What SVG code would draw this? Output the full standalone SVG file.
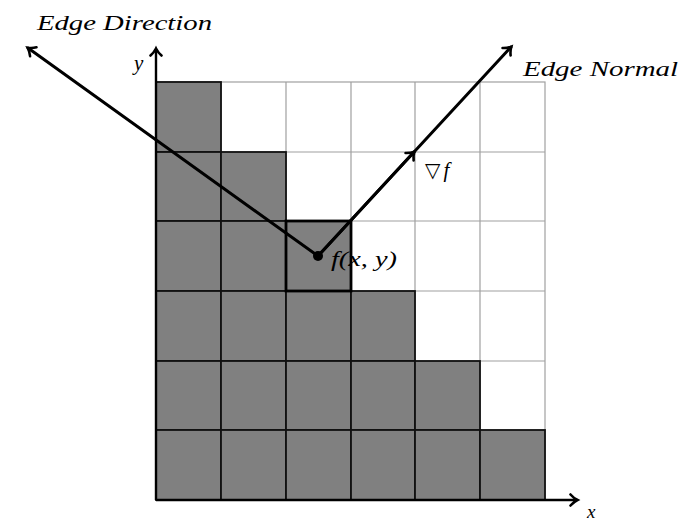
<svg xmlns="http://www.w3.org/2000/svg" width="689" height="523" viewBox="0 0 689 523">
<style>
.lbl{font-family:"Liberation Serif","DejaVu Serif","Times New Roman",serif;font-style:italic;fill:#000}
.cellw{fill:#fff;stroke:#a0a0a0;stroke-width:1.2}
.cellg{fill:#808080;stroke:#111;stroke-width:1.8}
.arr{fill:none;stroke:#000;stroke-width:3;stroke-linecap:round}
.axis{fill:none;stroke:#000;stroke-width:2.4}
</style>
<defs>
<marker id="head" markerWidth="14" markerHeight="14" refX="9" refY="7" orient="auto" markerUnits="userSpaceOnUse">
<path d="M2.5,1.5 Q5.5,5 9.5,7 Q5.5,9 2.5,12.5" fill="none" stroke="#000" stroke-width="2.6" stroke-linecap="round"/>
</marker>
</defs>
<g id="grid">
<rect class="cellw" x="156" y="82" width="389" height="418"/>
<path d="M221,82V500M286,82V500M351,82V500M415,82V500M480,82V500M156,152H545M156,221H545M156,291H545M156,361H545M156,430H545" stroke="#a0a0a0" stroke-width="1.2" fill="none"/>
</g>
<g id="gray-cells">
<rect class="cellg" x="156" y="82" width="65" height="70"/>
<rect class="cellg" x="156" y="152" width="65" height="69"/>
<rect class="cellg" x="221" y="152" width="65" height="69"/>
<rect class="cellg" x="156" y="221" width="65" height="70"/>
<rect class="cellg" x="221" y="221" width="65" height="70"/>
<rect class="cellg" x="156" y="291" width="65" height="70"/>
<rect class="cellg" x="221" y="291" width="65" height="70"/>
<rect class="cellg" x="286" y="291" width="65" height="70"/>
<rect class="cellg" x="351" y="291" width="64" height="70"/>
<rect class="cellg" x="156" y="361" width="65" height="69"/>
<rect class="cellg" x="221" y="361" width="65" height="69"/>
<rect class="cellg" x="286" y="361" width="65" height="69"/>
<rect class="cellg" x="351" y="361" width="64" height="69"/>
<rect class="cellg" x="415" y="361" width="65" height="69"/>
<rect class="cellg" x="156" y="430" width="65" height="70"/>
<rect class="cellg" x="221" y="430" width="65" height="70"/>
<rect class="cellg" x="286" y="430" width="65" height="70"/>
<rect class="cellg" x="351" y="430" width="64" height="70"/>
<rect class="cellg" x="415" y="430" width="65" height="70"/>
<rect class="cellg" x="480" y="430" width="65" height="70"/>
</g>
<g id="pixel">
<rect x="286" y="221" width="65" height="70" fill="#808080" stroke="#000" stroke-width="2.8"/>
</g>
<g id="connectors">
<path class="axis" d="M156,500V49" marker-end="url(#head)"/>
<path class="axis" d="M156,500H577" marker-end="url(#head)"/>
<path class="arr" d="M318,256L28,48" marker-end="url(#head)"/>
<path class="arr" d="M318,256L511,47" marker-end="url(#head)"/>
<path class="arr" d="M318,256L414,152" marker-end="url(#head)"/>
</g>
<g id="point">
<circle cx="318" cy="256" r="5" fill="#000"/>
</g>
<g id="labels">
<text class="lbl" x="37" y="30" font-size="21" textLength="175" lengthAdjust="spacingAndGlyphs">Edge Direction</text>
<text class="lbl" x="523" y="76" font-size="21" textLength="155" lengthAdjust="spacingAndGlyphs">Edge Normal</text>
<text class="lbl" x="134" y="70" font-size="21">y</text>
<text class="lbl" x="587" y="518" font-size="19">x</text>
<text class="lbl" x="331" y="266" font-size="21" textLength="66" lengthAdjust="spacingAndGlyphs">f(x, y)</text>
<text x="425" y="177" font-size="20" font-family="DejaVu Sans, sans-serif" fill="#000">▽<tspan class="lbl" font-size="21" dx="3">f</tspan></text>
</g>
</svg>
